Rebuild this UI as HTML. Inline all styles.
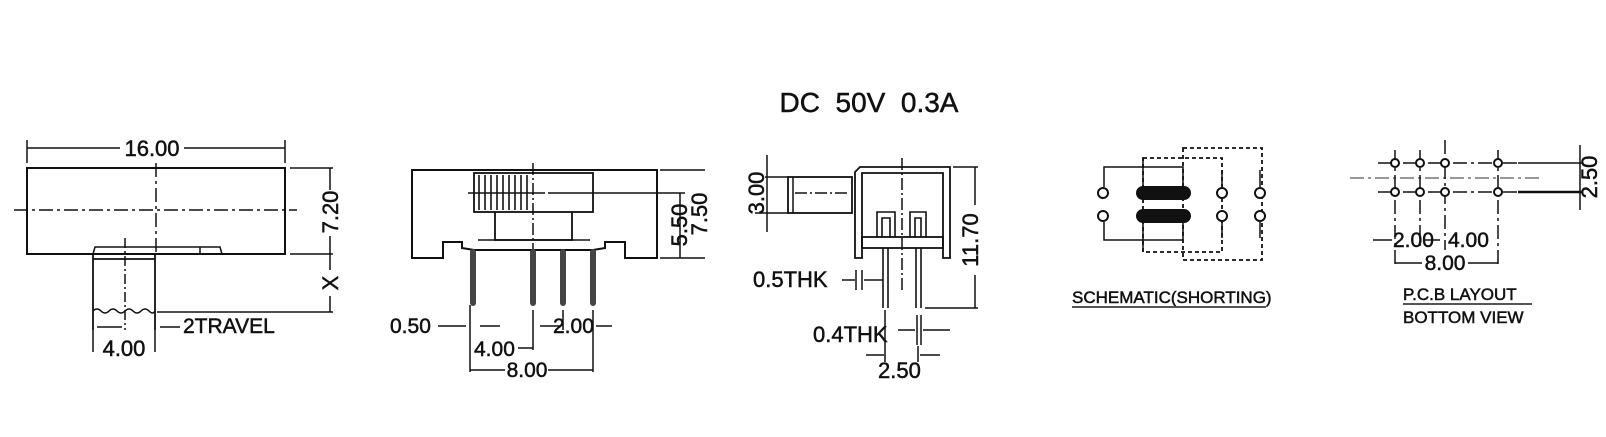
<!DOCTYPE html>
<html><head><meta charset="utf-8"><style>
html,body{margin:0;padding:0;background:#fff;width:1606px;height:437px;overflow:hidden}
svg{display:block}
text{font-family:"Liberation Sans",Arial,sans-serif;fill:#111;stroke:#111;stroke-width:0.5px;white-space:pre}
</style></head><body>
<svg width="1606" height="437" viewBox="0 0 1606 437" xmlns="http://www.w3.org/2000/svg" xml:space="preserve">
<g stroke="#111" fill="none" stroke-width="2">
<text x="869" y="112" font-size="28" text-anchor="middle">DC  50V  0.3A</text>

<!-- VIEW 1 -->
<line x1="27" y1="140" x2="27" y2="163" stroke-width="1.5"/>
<line x1="285" y1="140" x2="285" y2="163" stroke-width="1.5"/>
<line x1="27" y1="148" x2="120" y2="148" stroke-width="1.5"/>
<line x1="184" y1="148" x2="285" y2="148" stroke-width="1.5"/>
<text x="152" y="156" font-size="22" text-anchor="middle">16.00</text>
<rect x="27" y="168" width="258" height="86"/>
<line x1="14" y1="210" x2="297" y2="210" stroke-width="1.5" stroke-dasharray="14,4,3,4"/>
<line x1="156" y1="163" x2="156" y2="255" stroke-width="1.5" stroke-dasharray="14,4,3,4"/>
<path d="M93,254 L95,247 L220,247 L222,254" stroke-width="1.5"/>
<line x1="200" y1="247" x2="200" y2="254" stroke-width="1.5"/>
<path d="M93,254 L93,330 M155,254 L155,330 M93,259 L155,259" stroke-width="1.8"/>
<path d="M93,311 q4,-4 8,0 t8,0 t8,0 t8,0 t8,0 t8,0 t8,0 t6,0" stroke-width="1.5"/>
<line x1="125" y1="238" x2="125" y2="330" stroke-width="1.5" stroke-dasharray="10,3,2,3"/>
<line x1="290" y1="168" x2="333" y2="168" stroke-width="1.5"/>
<line x1="290" y1="254" x2="333" y2="254" stroke-width="1.5"/>
<line x1="330" y1="168" x2="330" y2="312" stroke-width="1.5"/>
<line x1="157" y1="312" x2="333" y2="312" stroke-width="1.5"/>
<rect x="318" y="190" width="24" height="46" fill="#fff" stroke="none"/>
<text transform="translate(338,212) rotate(-90)" font-size="22" text-anchor="middle">7.20</text>
<rect x="318" y="270" width="24" height="26" fill="#fff" stroke="none"/>
<text transform="translate(338,283) rotate(-90)" font-size="22" text-anchor="middle">X</text>
<line x1="160" y1="327" x2="180" y2="327" stroke-width="1.5"/>
<text x="183" y="333" font-size="21">2TRAVEL</text>
<line x1="97" y1="327" x2="122" y2="327" stroke-width="1.5"/>
<line x1="93" y1="330" x2="93" y2="352" stroke-width="1.5"/>
<line x1="155" y1="330" x2="155" y2="352" stroke-width="1.5"/>
<text x="124" y="356" font-size="22" text-anchor="middle">4.00</text>

<!-- VIEW 2 -->
<path d="M412,170 L657,170 L657,258 L625,258 L625,242 L605,242 L605,248 L593,250 L474,250 L462,248 L462,242 L443,242 L443,258 L412,258 Z"/>
<rect x="474" y="173" width="119" height="39" stroke-width="1.8"/>
<path d="M495,212 L495,240 L572,240 L572,212" stroke-width="1.8"/>
<line x1="478" y1="240" x2="590" y2="240" stroke-width="1.5"/>
<g stroke-width="1.6">
<line x1="479" y1="175" x2="479" y2="210"/><line x1="485" y1="175" x2="485" y2="210"/><line x1="491" y1="175" x2="491" y2="210"/><line x1="497" y1="175" x2="497" y2="210"/><line x1="503" y1="175" x2="503" y2="210"/><line x1="509" y1="175" x2="509" y2="210"/><line x1="515" y1="175" x2="515" y2="210"/><line x1="521" y1="175" x2="521" y2="210"/><line x1="527" y1="175" x2="527" y2="210"/>
</g>
<line x1="468" y1="193" x2="545" y2="193" stroke-width="1.5"/>
<line x1="548" y1="193" x2="685" y2="193" stroke-width="1.5"/>
<line x1="533" y1="163" x2="533" y2="250" stroke-width="1.5" stroke-dasharray="12,3,2,3"/>
<g stroke="#444" stroke-width="6" stroke-linecap="round">
<line x1="473" y1="252" x2="473" y2="303"/><line x1="533" y1="252" x2="533" y2="303"/><line x1="563" y1="252" x2="563" y2="303"/><line x1="593" y1="252" x2="593" y2="303"/>
</g>
<line x1="660" y1="170" x2="705" y2="170" stroke-width="1.5"/>
<line x1="660" y1="258" x2="705" y2="258" stroke-width="1.5"/>
<line x1="680" y1="193" x2="680" y2="258" stroke-width="1.5"/>
<text transform="translate(687,225) rotate(-90)" font-size="22" text-anchor="middle">5.50</text>
<text transform="translate(707,214) rotate(-90)" font-size="22" text-anchor="middle">7.50</text>
<line x1="470" y1="305" x2="470" y2="372" stroke-width="1.5"/>
<line x1="533" y1="310" x2="533" y2="350" stroke-width="1.5"/>
<line x1="563" y1="310" x2="563" y2="330" stroke-width="1.5"/>
<line x1="593" y1="310" x2="593" y2="372" stroke-width="1.5"/>
<line x1="438" y1="326" x2="466" y2="326" stroke-width="1.5"/>
<line x1="480" y1="326" x2="500" y2="326" stroke-width="1.5"/>
<text x="390" y="333" font-size="21">0.50</text>
<line x1="540" y1="326" x2="560" y2="326" stroke-width="1.5"/>
<line x1="596" y1="326" x2="612" y2="326" stroke-width="1.5"/>
<text x="553" y="333" font-size="21">2.00</text>
<line x1="518" y1="348" x2="533" y2="348" stroke-width="1.5"/>
<text x="474" y="356" font-size="21">4.00</text>
<line x1="470" y1="370" x2="505" y2="370" stroke-width="1.5"/>
<line x1="548" y1="370" x2="593" y2="370" stroke-width="1.5"/>
<text x="527" y="377" font-size="21" text-anchor="middle">8.00</text>

<!-- VIEW 3 -->
<rect x="788" y="177" width="64" height="36" stroke-width="1.8"/>
<line x1="793" y1="177" x2="793" y2="213" stroke-width="1.5"/>
<line x1="795" y1="193" x2="850" y2="193" stroke-width="1.5" stroke-dasharray="12,3,2,3"/>
<line x1="755" y1="177" x2="788" y2="177" stroke-width="1.5"/>
<line x1="755" y1="213" x2="788" y2="213" stroke-width="1.5"/>
<line x1="767" y1="155" x2="767" y2="232" stroke-width="1.5"/>
<rect x="745" y="172" width="20" height="40" fill="#fff" stroke="none"/>
<text transform="translate(764,193) rotate(-90)" font-size="22" text-anchor="middle">3.00</text>
<path d="M855,258 L855,172 L860,167 L950,167 L950,258 L943,258 L943,173 L862,173 L862,258 Z" stroke-width="1.8"/>
<rect x="862" y="237" width="81" height="11" stroke-width="1.8"/>
<path d="M877,237 L877,212 L895,212 L895,237 M882,237 L882,218 L890,218 L890,237" stroke-width="1.6"/>
<path d="M910,237 L910,212 L926,212 L926,237 M915,237 L915,218 L921,218 L921,237" stroke-width="1.6"/>
<g stroke-width="1.6">
<line x1="883" y1="248" x2="883" y2="308"/><line x1="888" y1="248" x2="888" y2="308"/>
<line x1="916" y1="248" x2="916" y2="308"/><line x1="921" y1="248" x2="921" y2="308"/>
</g>
<line x1="902" y1="158" x2="902" y2="290" stroke-width="1.5" stroke-dasharray="12,3,2,3"/>
<line x1="953" y1="167" x2="978" y2="167" stroke-width="1.5"/>
<line x1="925" y1="308" x2="978" y2="308" stroke-width="1.5"/>
<line x1="975" y1="167" x2="975" y2="308" stroke-width="1.5"/>
<rect x="960" y="205" width="22" height="70" fill="#fff" stroke="none"/>
<text transform="translate(978,240) rotate(-90)" font-size="22" text-anchor="middle">11.70</text>
<text x="753" y="287" font-size="22">0.5THK</text>
<line x1="842" y1="280" x2="855" y2="280" stroke-width="1.5"/>
<line x1="856" y1="270" x2="856" y2="290" stroke-width="1.5"/>
<line x1="862" y1="270" x2="862" y2="290" stroke-width="1.5"/>
<line x1="864" y1="280" x2="883" y2="280" stroke-width="1.5"/>
<text x="813" y="342" font-size="22">0.4THK</text>
<line x1="898" y1="330" x2="915" y2="330" stroke-width="1.5"/>
<line x1="917" y1="315" x2="917" y2="345" stroke-width="1.5"/>
<line x1="921" y1="315" x2="921" y2="345" stroke-width="1.5"/>
<line x1="923" y1="330" x2="950" y2="330" stroke-width="1.5"/>
<line x1="885" y1="310" x2="885" y2="362" stroke-width="1.5"/>
<line x1="918" y1="346" x2="918" y2="362" stroke-width="1.5"/>
<line x1="866" y1="355" x2="884" y2="355" stroke-width="1.5"/>
<line x1="920" y1="355" x2="940" y2="355" stroke-width="1.5"/>
<text x="878" y="378" font-size="22">2.50</text>

<!-- SCHEMATIC -->
<path d="M1104,187 L1104,167 L1183,167 L1183,187" stroke-width="1.5"/>
<path d="M1104,222 L1104,240 L1183,240 L1183,222" stroke-width="1.5"/>
<rect x="1143" y="158" width="79" height="94" stroke-width="1.8" stroke-dasharray="4,3"/>
<rect x="1183" y="148" width="79" height="112" stroke-width="1.8" stroke-dasharray="4,3"/>
<line x1="1143" y1="158" x2="1143" y2="187" stroke-width="1.5"/>
<line x1="1143" y1="222" x2="1143" y2="252" stroke-width="1.5"/>
<line x1="1222" y1="170" x2="1222" y2="187" stroke-width="1.5"/>
<line x1="1222" y1="222" x2="1222" y2="238" stroke-width="1.5"/>
<line x1="1260" y1="170" x2="1260" y2="187" stroke-width="1.5"/>
<line x1="1260" y1="222" x2="1260" y2="238" stroke-width="1.5"/>
<g fill="#fff" stroke-width="2">
<circle cx="1103" cy="193" r="5"/><circle cx="1103" cy="216" r="5"/>
<circle cx="1222" cy="193" r="5"/><circle cx="1222" cy="216" r="5"/>
<circle cx="1260" cy="193" r="5"/><circle cx="1260" cy="216" r="5"/>
</g>
<rect x="1137" y="187" width="53" height="12" rx="6" fill="#111"/>
<rect x="1137" y="210" width="53" height="12" rx="6" fill="#111"/>
<text x="1072" y="303" font-size="17">SCHEMATIC(SHORTING)</text>
<line x1="1072" y1="307" x2="1266" y2="307" stroke-width="2" stroke="#555"/>

<!-- PCB -->
<line x1="1378" y1="163" x2="1520" y2="163" stroke-width="1.5" stroke-dasharray="14,4,3,4"/>
<line x1="1518" y1="163" x2="1583" y2="163" stroke-width="1.5"/>
<line x1="1378" y1="192" x2="1520" y2="192" stroke-width="1.5" stroke-dasharray="14,4,3,4"/>
<line x1="1518" y1="192" x2="1583" y2="192" stroke-width="2.5"/>
<line x1="1350" y1="178" x2="1543" y2="178" stroke-width="1.5" stroke="#777" stroke-dasharray="14,4,3,4"/>
<line x1="1395" y1="150" x2="1395" y2="265" stroke-width="1.5" stroke-dasharray="14,4,3,4"/>
<line x1="1420" y1="150" x2="1420" y2="250" stroke-width="1.5" stroke-dasharray="14,4,3,4"/>
<line x1="1445" y1="140" x2="1445" y2="250" stroke-width="1.5" stroke-dasharray="14,4,3,4"/>
<line x1="1498" y1="150" x2="1498" y2="265" stroke-width="1.5" stroke-dasharray="14,4,3,4"/>
<g fill="#fff" stroke-width="2">
<circle cx="1395" cy="163" r="4"/><circle cx="1420" cy="163" r="4"/><circle cx="1445" cy="163" r="4"/><circle cx="1498" cy="163" r="4"/>
<circle cx="1395" cy="192" r="4"/><circle cx="1420" cy="192" r="4"/><circle cx="1445" cy="192" r="4"/><circle cx="1498" cy="192" r="4"/>
</g>
<line x1="1580" y1="145" x2="1580" y2="210" stroke-width="1.5"/>
<text transform="translate(1597,177) rotate(-90)" font-size="22" text-anchor="middle">2.50</text>
<line x1="1373" y1="240" x2="1392" y2="240" stroke-width="1.5"/>
<line x1="1425" y1="240" x2="1440" y2="240" stroke-width="1.5"/>
<text x="1393" y="247" font-size="21">2.00</text>
<text x="1448" y="247" font-size="21">4.00</text>
<line x1="1395" y1="263" x2="1422" y2="263" stroke-width="1.5"/>
<line x1="1468" y1="263" x2="1498" y2="263" stroke-width="1.5"/>
<text x="1445" y="270" font-size="21" text-anchor="middle">8.00</text>
<text x="1403" y="300" font-size="17">P.C.B LAYOUT</text>
<line x1="1403" y1="304" x2="1532" y2="304" stroke-width="2" stroke="#555"/>
<text x="1403" y="323" font-size="17">BOTTOM VIEW</text>
</g>
</svg>
</body></html>
